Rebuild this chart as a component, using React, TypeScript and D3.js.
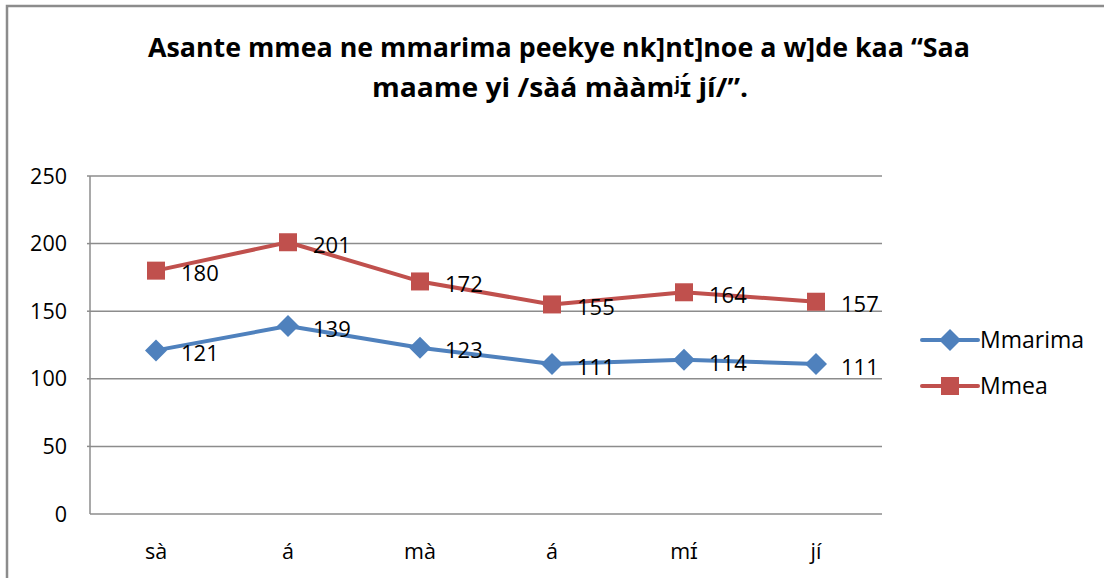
import * as d3 from 'd3';
import React from 'react';

const categories = ['sà', 'á', 'mà', 'á ', 'mɪ́', 'jí'];
const mmarima = [121, 139, 123, 111, 114, 111];
const mmea = [180, 201, 172, 155, 164, 157];
const yTicks = [0, 50, 100, 150, 200, 250];
const titleLines = ['Asante mmea ne mmarima peekye nk]nt]noe a w]de kaa “Saa', 'maame yi /sàá mààmʲɪ́ jí/”.'];

const series = [
  { name: 'Mmarima', values: mmarima, color: '#4F81BD', marker: 'diamond' },
  { name: 'Mmea', values: mmea, color: '#C0504D', marker: 'square' },
];

const font = '"Open Sans", "Liberation Sans", sans-serif';

const App = () => {
  const margin = { left: 90, right: 882, top: 176, bottom: 514 };
  const x = d3.scaleBand().domain(categories).range([margin.left, margin.right]);
  const y = d3.scaleLinear().domain([0, 250]).range([margin.bottom, margin.top]);
  const cx = (c: string) => (x(c) as number) + x.bandwidth() / 2;

  const line = d3.line<number>()
    .x((_, i) => cx(categories[i]))
    .y((d) => y(d));

  const marker = (type: string, px: number, py: number, color: string, key: any) => {
    if (type === 'square') {
      return <rect key={key} x={px - 9} y={py - 9} width={18} height={18} fill={color} />;
    }
    return <path key={key} d={`M${px},${py - 11}L${px + 11},${py}L${px},${py + 11}L${px - 11},${py}Z`} fill={color} />;
  };

  return (
    <svg width={1105} height={578} style={{ position: 'absolute', left: 0, top: 0 }} fontFamily={font}>
      <rect x={0} y={0} width={1105} height={578} fill="#fff" />
      {/* chart border */}
      <path d="M7,578V6H1104" fill="none" stroke="#8c8c8c" strokeWidth={2.5} />

      {/* title */}
      <g fontWeight="bold" fontSize={27} textAnchor="middle" fill="#000">
        <text x={559} y={57} textLength={822} lengthAdjust="spacingAndGlyphs">{titleLines[0]}</text>
        <text x={560} y={97} textLength={376} lengthAdjust="spacingAndGlyphs">{titleLines[1]}</text>
      </g>

      {/* gridlines */}
      {yTicks.filter((t) => t > 0).map((t) => (
        <line key={t} x1={margin.left} x2={margin.right} y1={y(t)} y2={y(t)} stroke="#8c8c8c" strokeWidth={1.5} />
      ))}
      {/* axes */}
      <line x1={margin.left} x2={margin.left} y1={margin.top} y2={margin.bottom} stroke="#8c8c8c" strokeWidth={1.5} />
      <line x1={margin.left} x2={margin.right} y1={margin.bottom} y2={margin.bottom} stroke="#8c8c8c" strokeWidth={1.5} />
      {yTicks.map((t) => (
        <g key={t}>
          {t > 0 && <line x1={margin.left - 3} x2={margin.left} y1={y(t)} y2={y(t)} stroke="#8c8c8c" strokeWidth={1.5} />}
          <text x={67} y={y(t)} dy="0.35em" textAnchor="end" fontSize={21.5} fill="#000">{t}</text>
        </g>
      ))}
      {categories.map((c, i) => (
        <text key={i} x={cx(c)} y={551} dy="0.35em" textAnchor="middle" fontSize={21.5} fill="#000">{c.trim()}</text>
      ))}

      {/* series */}
      {series.map((s) => (
        <g key={s.name}>
          <path d={line(s.values) as string} fill="none" stroke={s.color} strokeWidth={4} strokeLinejoin="round" />
          {s.values.map((v, i) => marker(s.marker, cx(categories[i]), y(v), s.color, i))}
          {s.values.map((v, i) => (
            <text key={'l' + i} x={cx(categories[i]) + 25} y={y(v) + 3} dy="0.35em" fontSize={22} fill="#000">{v}</text>
          ))}
        </g>
      ))}

      {/* legend */}
      {series.map((s, i) => {
        const ly = 340 + i * 46;
        return (
          <g key={s.name}>
            <line x1={922} x2={978} y1={ly} y2={ly} stroke={s.color} strokeWidth={4} strokeLinecap="round" />
            {marker(s.marker, 950, ly, s.color, 'm')}
            <text x={980} y={ly} dy="0.35em" fontSize={23} fill="#000">{s.name}</text>
          </g>
        );
      })}
    </svg>
  );
};

export default App;
